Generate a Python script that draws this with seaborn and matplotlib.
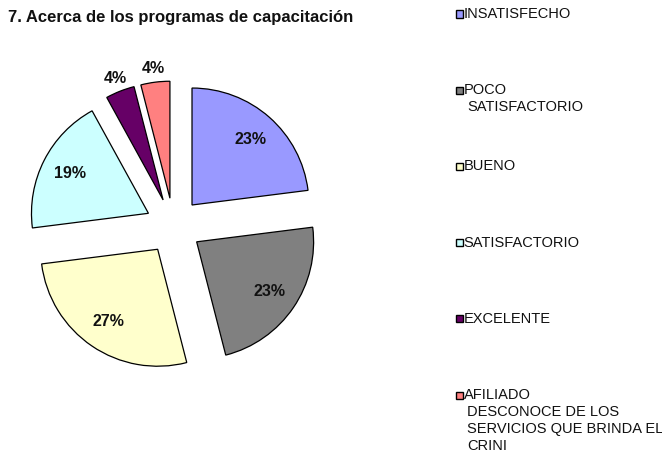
import matplotlib
matplotlib.use("Agg")
import matplotlib.pyplot as plt
import seaborn as sns
import numpy as np
from matplotlib.patches import Rectangle

# Data
categories = ["INSATISFECHO", "POCO\nSATISFACTORIO", "BUENO", "SATISFACTORIO",
              "EXCELENTE", "AFILIADO\nDESCONOCE DE LOS\nSERVICIOS QUE BRINDA EL\nCRINI"]
percent = [23, 23, 27, 19, 4, 4]
colors = ["#9999FF", "#808080", "#FFFFCC", "#CCFFFF", "#660066", "#FF8080"]
title = "7. Acerca de los programas de capacitación"

sns.set_style("white")
plt.rcParams['font.family'] = ['Liberation Sans', 'DejaVu Sans']

W, H = 662, 454
fig = plt.figure(figsize=(W / 100, H / 100), dpi=100)
ax = fig.add_axes([-0.003, 0.1156, 0.53, 0.773])

palette = sns.color_palette(colors)
explode = 0.24
wedges, texts = ax.pie(percent, colors=palette, startangle=90, counterclock=False,
                       explode=[explode] * len(percent),
                       wedgeprops=dict(edgecolor="black", linewidth=0.9))

# percentage labels: inside for big slices, outside for the small ones
for w, p in zip(wedges, percent):
    mid = np.deg2rad((w.theta1 + w.theta2) / 2)
    r = explode + (0.75 if p > 10 else 1.12)
    ax.text(r * np.cos(mid), r * np.sin(mid), f"{p}%", ha="center", va="center",
            fontsize=11.5, fontweight="bold", color="#111111")

ax.set_xlim(-1.5, 1.5)
ax.set_ylim(-1.5, 1.5)
ax.set_aspect("equal")
ax.axis("off")

fig.text(8 / W, 1 - 17.5 / H, title, fontsize=12, fontweight="bold",
         ha="left", va="center", color="#111111")

# legend drawn by hand: marker aligned with first line, later lines indented
y0, step, line_h = 14, 76.2, 17
for i, (lab, c) in enumerate(zip(categories, palette)):
    y = y0 + i * step
    fig.patches.append(Rectangle((455.5 / W, 1 - (y + 3.5) / H), 7 / W, 7 / H,
                                 transform=fig.transFigure, facecolor=c,
                                 edgecolor="black", linewidth=1.0))
    for j, line in enumerate(lab.split("\n")):
        x = 463.5 if j == 0 else 467
        fig.text(x / W, 1 - (y + j * line_h) / H, line, fontsize=10.5,
                 ha="left", va="center", color="#111111")

fig.savefig("out.png", dpi=100)
